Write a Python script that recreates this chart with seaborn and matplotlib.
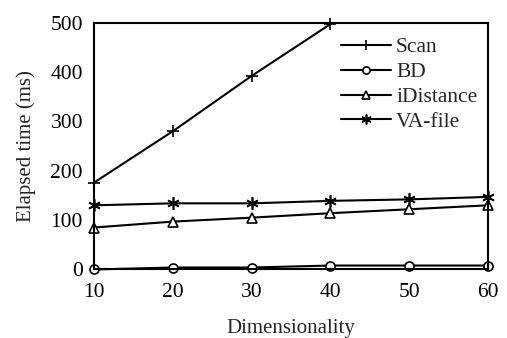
import numpy as np
import pandas as pd
import seaborn as sns
import matplotlib
matplotlib.use('Agg')
import matplotlib.pyplot as plt

dims = [10, 20, 30, 40, 50, 60]
scan = [176, 280, 392, 497]
bd = [0, 4, 4, 8, 8, 8]
idistance = [85, 97, 105, 114, 122, 130]
vafile = [130, 134, 134, 139, 142, 147]

# name, x, y, marker, face colour, marker size
series = [
    ('Scan', dims[:len(scan)], scan, '+', 'k', 9),
    ('BD', dims, bd, 'o', 'white', 6.5),
    ('iDistance', dims, idistance, '^', 'white', 6.5),
    ('VA-file', dims, vafile, (6, 2, 0), 'k', 9),
]

sns.set_style('white')
plt.rcParams['font.family'] = ['Liberation Serif', 'DejaVu Serif']
plt.rcParams['font.size'] = 15

fig = plt.figure(figsize=(5.07, 3.38), dpi=100)
ax = fig.add_axes([0.1854, 0.2027, 0.777, 0.7303])

for name, xs, ys, mk, fc, ms in series:
    df = pd.DataFrame({'dim': xs, 'time': ys})
    sns.lineplot(data=df, x='dim', y='time', ax=ax, color='k', linewidth=1.5,
                 marker=mk, markersize=ms, markerfacecolor=fc,
                 markeredgecolor='k', markeredgewidth=1.2, label=name,
                 clip_on=False)

ax.set_xlim(10, 60)
ax.set_ylim(0, 500)
ax.set_xticks(dims)
ax.set_yticks([0, 100, 200, 300, 400, 500])
ax.tick_params(axis='both', direction='in', length=4, width=1.2, labelsize=15.5,
               colors='k')
ax.tick_params(axis='x', length=0, pad=10)
ax.tick_params(axis='y', pad=8)
for sp in ax.spines.values():
    sp.set_color('k')
    sp.set_linewidth(1.5)

ax.set_xlabel('Dimensionality', fontsize=15, labelpad=12)
ax.set_ylabel('Elapsed time (ms)', fontsize=15, labelpad=10)

leg = ax.legend(loc='upper right', bbox_to_anchor=(0.995, 0.975), frameon=False,
                fontsize=15.5, handlelength=2.3, handletextpad=0.25,
                labelspacing=0.22, borderaxespad=0, markerscale=0.8)

fig.savefig('out.png', dpi=100)
